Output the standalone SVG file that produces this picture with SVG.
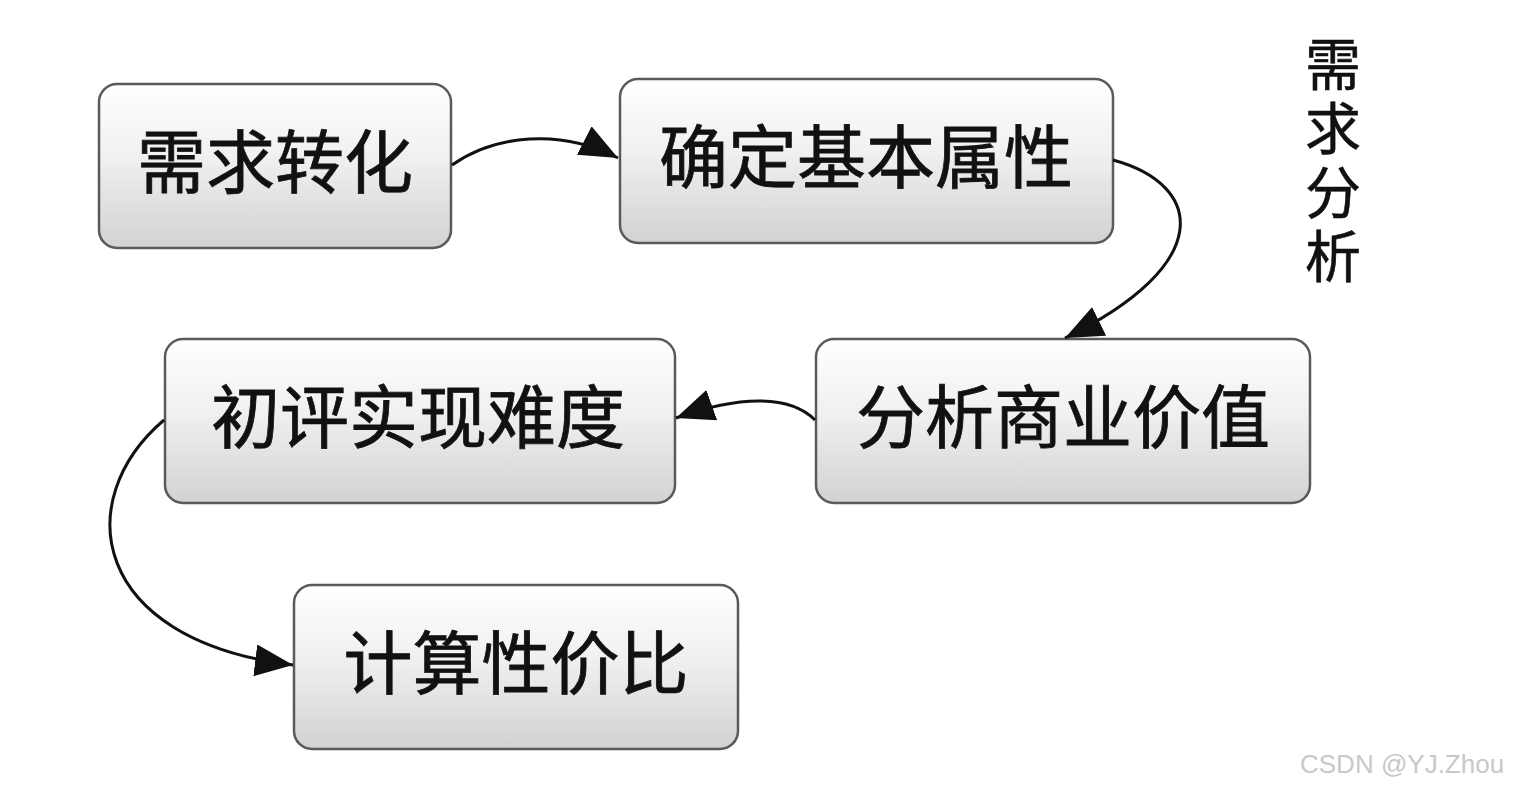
<svg xmlns="http://www.w3.org/2000/svg" width="1515" height="789" viewBox="0 0 1515 789">
<defs>
<linearGradient id="g" x1="0" y1="0" x2="0" y2="1">
<stop offset="0" stop-color="#ffffff"/>
<stop offset="0.45" stop-color="#f0f0f0"/>
<stop offset="1" stop-color="#d2d2d2"/>
</linearGradient>
<marker id="ah" markerUnits="userSpaceOnUse" markerWidth="44" markerHeight="36" refX="38" refY="16" orient="auto" viewBox="0 0 44 36">
<path d="M0,0 L38,16 L0,32 z" fill="#111"/>
</marker>
<style>
.box{fill:url(#g);stroke:#5a5a5a;stroke-width:2.5}
.lbl{font-family:"Noto Sans CJK SC","Noto Sans CJK JP",sans-serif;font-size:69px;fill:#111;stroke:#111;stroke-width:0.8;text-anchor:middle}
.side{font-family:"Noto Sans CJK SC","Noto Sans CJK JP",sans-serif;font-size:56px;fill:#111;stroke:#111;stroke-width:0.6;writing-mode:vertical-rl;letter-spacing:8px}
.con{fill:none;stroke:#111;stroke-width:3;marker-end:url(#ah)}
</style>
</defs>
<rect width="1515" height="789" fill="#fff"/>
<g id="n1"><rect class="box" x="99" y="84" width="352" height="164" rx="18"/><text class="lbl" x="275" y="188">需求转化</text></g>
<g id="n2"><rect class="box" x="620" y="79" width="493" height="164" rx="18"/><text class="lbl" x="866" y="183">确定基本属性</text></g>
<g id="n3"><rect class="box" x="816" y="339" width="494" height="164" rx="18"/><text class="lbl" x="1063" y="443">分析商业价值</text></g>
<g id="n4"><rect class="box" x="165" y="339" width="510" height="164" rx="18"/><text class="lbl" x="418" y="443">初评实现难度</text></g>
<g id="n5"><rect class="box" x="294" y="585" width="444" height="164" rx="18"/><text class="lbl" x="516" y="689">计算性价比</text></g>
<g id="title">
<text class="side" x="1333" y="36">需求分析</text>
</g>
<g id="connectors">
<path class="con" d="M452,165 C495,135 560,128 618,158"/>
<path class="con" d="M1113,160 C1205,185 1215,265 1065,338"/>
<path class="con" d="M815,420 C790,395 740,395 676,418"/>
<path class="con" d="M164,420 C70,500 90,640 293,665"/>
</g>
<text x="1300" y="773" font-family="Liberation Sans, Arial, sans-serif" font-size="26" fill="#c8c8c8">CSDN @YJ.Zhou</text>
</svg>
